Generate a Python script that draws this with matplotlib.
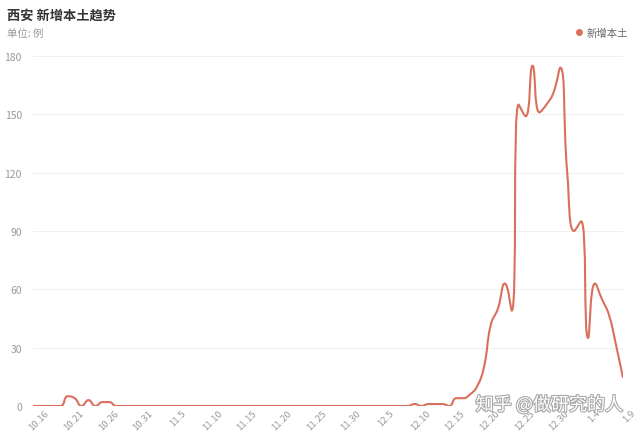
import numpy as np
import matplotlib
matplotlib.use("Agg")
import matplotlib.pyplot as plt
import matplotlib.transforms as mtrans
from matplotlib.path import Path
from matplotlib.patches import PathPatch
from matplotlib.lines import Line2D
import matplotlib.patheffects as pe

plt.rcParams['font.family'] = ['Noto Sans CJK SC', 'DejaVu Sans']

# Daily new local cases, Xi'an, 10.16 -> 1.9 (one value per day)
cases = [0, 0, 0, 0, 0, 5, 4, 0, 3, 0,
         2, 2, 0, 0, 0, 0, 0, 0, 0, 0,
         0, 0, 0, 0, 0, 0, 0, 0, 0, 0,
         0, 0, 0, 0, 0, 0, 0, 0, 0, 0,
         0, 0, 0, 0, 0, 0, 0, 0, 0, 0,
         0, 0, 0, 0, 0, 1, 0, 1, 1, 1,
         0, 4, 4, 6, 10, 20, 42, 50, 63, 49,
         155, 149, 175, 151, 155, 161, 174, 120, 90, 95,
         35, 63, 55, 47, 32, 15]
tick_labels = ['10.16', '10.21', '10.26', '10.31', '11.5', '11.10', '11.15',
               '11.20', '11.25', '11.30', '12.5', '12.10', '12.15', '12.20',
               '12.25', '12.30', '1.4', '1.9']
y_ticks = [0, 30, 60, 90, 120, 150, 180]

days = np.arange(len(cases))
line_color = '#d9705c'


def smooth_path(xs, ys, sx, sy, smooth=0.5):
    # echarts-like bezier smoothing, computed in (approx) pixel units
    px = np.asarray(xs, float) * sx
    py = np.asarray(ys, float) * sy
    n = len(px)
    verts = [(px[0], py[0])]
    codes = [Path.MOVETO]
    cp0 = (px[0], py[0])
    for i in range(1, n):
        x, y = px[i], py[i]
        if i == n - 1:
            cp1 = (x, y)
            nxt = (x, y)
        else:
            prx, pry = px[i - 1], py[i - 1]
            nx, ny = px[i + 1], py[i + 1]
            vx, vy = nx - prx, ny - pry
            lp = np.hypot(x - prx, y - pry)
            ln = np.hypot(nx - x, ny - y)
            r = ln / (ln + lp)
            ncx = x + vx * smooth * r
            ncy = y + vy * smooth * r
            ncx = min(max(ncx, min(nx, x)), max(nx, x))
            ncy = min(max(ncy, min(ny, y)), max(ny, y))
            vx, vy = ncx - x, ncy - y
            c1x = x - vx * lp / ln
            c1y = y - vy * lp / ln
            c1x = min(max(c1x, min(prx, x)), max(prx, x))
            c1y = min(max(c1y, min(pry, y)), max(pry, y))
            vx, vy = x - c1x, y - c1y
            cp1 = (c1x, c1y)
            nxt = (x + vx * ln / lp, y + vy * ln / lp)
        verts += [cp0, cp1, (x, y)]
        codes += [Path.CURVE4] * 3
        cp0 = nxt
    verts = np.array(verts)
    verts[:, 0] /= sx
    verts[:, 1] /= sy
    return Path(verts, codes)


fig = plt.figure(figsize=(6.4, 4.35), dpi=100)
ax = fig.add_axes([0.0516, 0.0644, 0.9214, 0.8046])
ax.set_xlim(0, len(cases) - 1)
ax.set_ylim(0, 180)

path = smooth_path(days, cases, 590 / 85, 350 / 180)
ax.add_patch(PathPatch(path, facecolor='none', edgecolor=line_color,
                       lw=1.5, capstyle='round', joinstyle='round'))

ax.set_yticks(y_ticks)
ax.set_xticks(days[::5])
ax.set_xticklabels(tick_labels, rotation=45, ha='center')
ax.tick_params(axis='x', length=0, pad=1.5, labelsize=6.8, labelcolor='#999999')
ax.tick_params(axis='y', length=0, pad=8, labelsize=7.5, labelcolor='#999999')
shift = mtrans.ScaledTranslation(6 / 100, 0, fig.dpi_scale_trans)
for lab in ax.get_xticklabels():
    lab.set_transform(lab.get_transform() + shift)
ax.yaxis.grid(True, color='#f0f0f0', lw=0.7)
ax.set_axisbelow(True)
for s in ax.spines.values():
    s.set_visible(False)

fig.text(0.011, 0.963, '西安 新增本土趋势', fontsize=9.5, fontweight='bold',
         color='#333333', va='center')
fig.text(0.011, 0.922, '单位: 例', fontsize=7.5, color='#999999', va='center')

handle = Line2D([], [], marker='o', color=line_color, lw=0, markersize=4)
fig.legend([handle], ['新增本土'], loc='center right',
           bbox_to_anchor=(0.988, 0.922), frameon=False, fontsize=7.5,
           labelcolor='#666666', handlelength=0.6, handletextpad=0.4,
           borderaxespad=0)

fig.text(0.858, 0.067, '知乎 @做研究的人', fontsize=13, color='white',
         ha='center', va='center',
         path_effects=[pe.withStroke(linewidth=1.6, foreground='#a8a8a8')])

fig.savefig('out.png', dpi=100)
